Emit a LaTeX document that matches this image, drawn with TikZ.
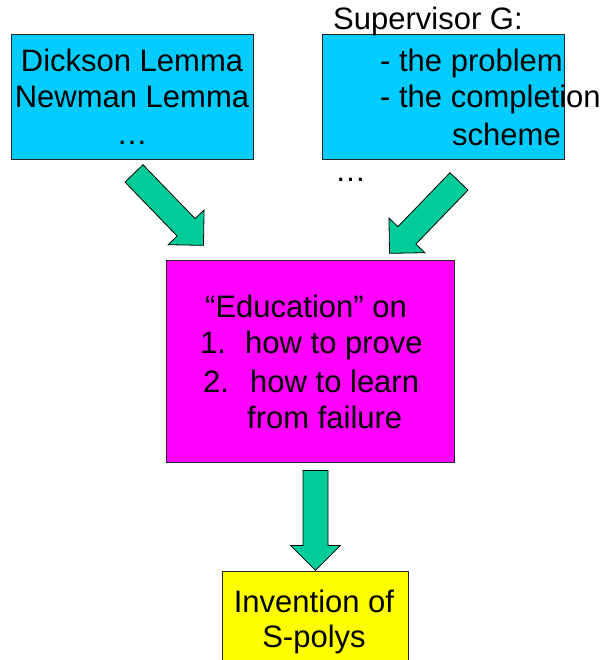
\documentclass[tikz,border=0pt]{standalone}
\usepackage{fontspec}
\setmainfont{Liberation Sans}
\definecolor{boxcyan}{HTML}{00CCFF}
\definecolor{boxmagenta}{HTML}{FF00FF}
\definecolor{boxyellow}{HTML}{FFFF00}
\definecolor{arrowgreen}{HTML}{00CC99}
\tikzset{
  box/.style={draw=black!85,line width=0.8pt,inner sep=0pt},
  txt/.style={inner sep=0pt,font=\fontsize{31}{37}\selectfont},
  blockarrow/.pic={\draw[fill=arrowgreen,line width=0.8pt,line join=miter]
    (0,-12.5)--(75,-12.5)--(75,-25)--(100,0)--(75,25)--(75,12.5)--(0,12.5)--cycle;}
}
\begin{document}
\begin{tikzpicture}[x=1pt,y=-1pt]
	\clip (0,0) rectangle (601,660);
	% boxes
	\node[box,fill=boxcyan,minimum width=242,minimum height=125] (lemmas) at (132,96.5) {};
	\node[box,fill=boxcyan,minimum width=242,minimum height=125] (supervisor) at (443,96.5) {};
	\node[box,fill=boxmagenta,minimum width=288,minimum height=202] (education) at (310,361) {};
	\node[box,fill=boxyellow,minimum width=186,minimum height=99] (invention) at (315,620.5) {};
	% texts
	\node[txt,anchor=base] (dickson) at (132,72) {Dickson Lemma};
	\node[txt,anchor=base] (newman) at (132,108) {Newman Lemma};
	\node[txt,anchor=base] (ldotsL) at (132,145) {…};
	\node[txt,anchor=base west] (superG) at (333,30) {Supervisor G:};
	\node[txt,anchor=base west] (problem) at (380,72) {- the problem};
	\node[txt,anchor=base west] (completion) at (380,108) {- the completion};
	\node[txt,anchor=base west] (scheme) at (452,146) {scheme};
	\node[txt,anchor=base west] (ldotsR) at (335,182) {…};
	\node[txt,anchor=base west] (educ) at (205,317) {“Education” on};
	\node[txt,anchor=base west] (one) at (200,353) {1.};
	\node[txt,anchor=base west] (prove) at (245,353) {how to prove};
	\node[txt,anchor=base west] (two) at (203,392) {2.};
	\node[txt,anchor=base west] (learn) at (250,392) {how to learn};
	\node[txt,anchor=base west] (failure) at (247,428) {from failure};
	\node[txt,anchor=base] (inv) at (314,612) {Invention of};
	\node[txt,anchor=base] (spolys) at (314,647) {S-polys};
	% block arrows
	\path (lemmas.south) ++(2,14) pic[rotate=-46] {blockarrow};
	\path (supervisor.south) ++(16,22) pic[rotate=-134] {blockarrow};
	\path (education.south) ++(5.5,8) pic[rotate=-90] {blockarrow};
\end{tikzpicture}
\end{document}
